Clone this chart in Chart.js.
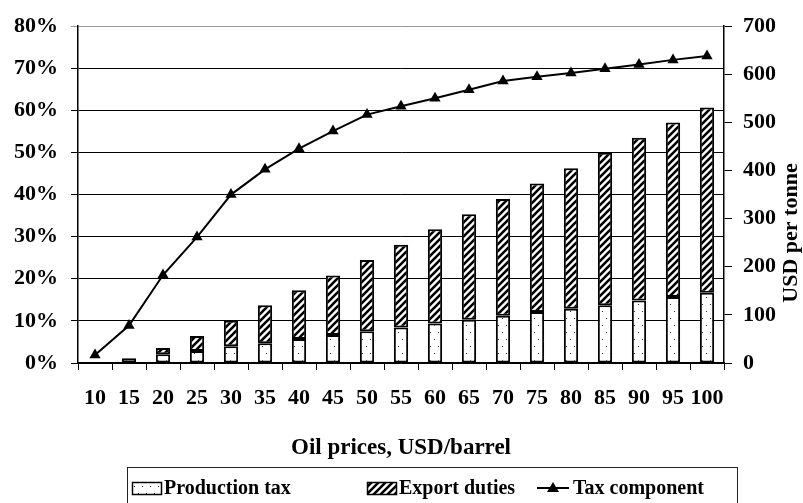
<!DOCTYPE html>
<html>
<head>
<meta charset="utf-8">
<script src="https://cdn.jsdelivr.net/npm/chart.js@4/dist/chart.umd.min.js"></script>
<style>
  html, body { margin: 0; padding: 0; background: #fff; }
  #wrap { width: 803px; height: 503px; }
</style>
</head>
<body>
<div id="wrap"><canvas id="c" width="803" height="503"></canvas></div>
<script>
// Oil price scenarios, USD/barrel
const prices = ['10','15','20','25','30','35','40','45','50','55','60','65','70','75','80','85','90','95','100'];
// Production tax, USD per tonne
const productionTax = [2, 10, 18, 25, 35, 41, 50, 58, 66, 74, 82, 90, 98, 106, 113, 120, 130, 137, 146];
// Export duties, USD per tonne
const exportDuties = [0, 0, 13, 31, 53, 79, 101, 124, 148, 172, 196, 219, 243, 267, 292, 317, 338, 363, 385];
// Tax component, % of oil price
const taxComponent = [1.9, 8.9, 20.9, 29.9, 40.0, 46.0, 50.9, 55.1, 59.0, 61.0, 62.9, 64.9, 67.0, 68.0, 68.9, 69.9, 70.9, 72.0, 72.9];

const seriesNames = ['Production tax', 'Export duties', 'Tax component'];
const axisTitleX = 'Oil prices, USD/barrel';
const axisTitleRight = 'USD per tonne';

const FONT = "'Liberation Serif', 'Times New Roman', serif";

function dotPattern() {
  const c = document.createElement('canvas');
  c.width = 8; c.height = 14;
  const g = c.getContext('2d');
  g.fillStyle = '#fff'; g.fillRect(0, 0, 8, 14);
  g.fillStyle = '#333';
  g.fillRect(2, 3, 1, 1);
  g.fillRect(6, 10, 1, 1);
  return g.createPattern(c, 'repeat');
}

function hatchPattern() {
  const s = 7;
  const c = document.createElement('canvas');
  c.width = s; c.height = s;
  const g = c.getContext('2d');
  g.fillStyle = '#fff'; g.fillRect(0, 0, s, s);
  g.strokeStyle = '#000'; g.lineWidth = 2.6;
  g.beginPath();
  g.moveTo(-1, s + 1); g.lineTo(s + 1, -1);
  g.moveTo(-1, 1); g.lineTo(1, -1);
  g.moveTo(s - 1, s + 1); g.lineTo(s + 1, s - 1);
  g.stroke();
  return g.createPattern(c, 'repeat');
}

const dots = dotPattern();
const hatch = hatchPattern();

// Boxed legend under the chart plus the rotated right-axis title
const extras = {
  id: 'extras',
  afterDraw(chart) {
    const ctx = chart.ctx;
    ctx.save();
    ctx.fillStyle = '#000';
    ctx.font = 'bold 22px ' + FONT;
    ctx.textAlign = 'center';
    ctx.textBaseline = 'middle';
    ctx.translate(791, 233);
    ctx.rotate(-Math.PI / 2);
    ctx.fillText(axisTitleRight, 0, 0);
    ctx.restore();

    ctx.save();
    ctx.strokeStyle = '#222';
    ctx.lineWidth = 1;
    ctx.strokeRect(127.5, 467.5, 610, 40);

    const cy = 488;
    ctx.font = 'bold 20px ' + FONT;
    ctx.textAlign = 'left';
    ctx.textBaseline = 'middle';

    // Production tax swatch
    ctx.fillStyle = dots;
    ctx.fillRect(132, cy - 6, 29, 12);
    ctx.strokeStyle = '#000'; ctx.lineWidth = 1.5;
    ctx.strokeRect(132.5, cy - 5.5, 29, 12);
    ctx.fillStyle = '#000';
    ctx.fillText(seriesNames[0], 164, cy + 1);

    // Export duties swatch
    ctx.fillStyle = hatch;
    ctx.fillRect(367, cy - 6, 29, 12);
    ctx.strokeRect(367.5, cy - 5.5, 29, 12);
    ctx.fillStyle = '#000';
    ctx.fillText(seriesNames[1], 399, cy + 1);

    // Tax component line sample
    ctx.beginPath();
    ctx.lineWidth = 2;
    ctx.moveTo(537, cy); ctx.lineTo(569, cy);
    ctx.stroke();
    ctx.beginPath();
    ctx.moveTo(553, cy - 6); ctx.lineTo(559, cy + 4); ctx.lineTo(547, cy + 4);
    ctx.closePath(); ctx.fill();
    ctx.fillText(seriesNames[2], 573, cy + 1);
    ctx.restore();
  }
};

new Chart(document.getElementById('c'), {
  type: 'bar',
  data: {
    labels: prices,
    datasets: [
      {
        type: 'line',
        label: seriesNames[2],
        data: taxComponent,
        yAxisID: 'y',
        order: 0,
        borderColor: '#000',
        backgroundColor: '#000',
        borderWidth: 2,
        tension: 0,
        pointStyle: 'triangle',
        pointRadius: 6.5,
        pointBackgroundColor: '#000',
        pointBorderColor: '#000',
        pointBorderWidth: 0
      },
      {
        label: seriesNames[0],
        data: productionTax,
        yAxisID: 'y2',
        stack: 'tax',
        order: 1,
        backgroundColor: dots,
        borderColor: '#000',
        borderWidth: 2,
        borderSkipped: false,
        categoryPercentage: 1,
        barPercentage: 0.42
      },
      {
        label: seriesNames[1],
        data: exportDuties,
        yAxisID: 'y2',
        stack: 'tax',
        order: 1,
        backgroundColor: hatch,
        borderColor: '#000',
        borderWidth: 2,
        borderSkipped: false,
        categoryPercentage: 1,
        barPercentage: 0.42
      }
    ]
  },
  options: {
    responsive: false,
    animation: false,
    layout: { padding: { top: 20, left: 0, right: 0, bottom: 40 } },
    plugins: { legend: { display: false }, tooltip: { enabled: false } },
    scales: {
      x: {
        stacked: true,
        offset: true,
        grid: { offset: true, drawOnChartArea: false, drawTicks: true, tickLength: 7, color: '#000', lineWidth: 1 },
        border: { display: true, color: '#000', width: 1.5 },
        ticks: { color: '#000', font: { family: FONT, size: 22, weight: 'bold' }, padding: 15, maxRotation: 0, autoSkip: false },
        title: { display: true, text: axisTitleX, color: '#000', font: { family: FONT, size: 23, weight: 'bold' }, padding: { top: 0, bottom: 1 } },
        afterFit(scale) { scale.height = 100; }
      },
      y: {
        position: 'left',
        min: 0, max: 80,
        ticks: { stepSize: 10, color: '#000', padding: 13, font: { family: FONT, size: 22, weight: 'bold' }, callback: v => v + '%' },
        grid: { color: ctx => (ctx.tick && ctx.tick.value === 80 ? '#999' : '#000'), lineWidth: 1, tickLength: 7 },
        border: { display: true, color: '#000', width: 1.5 },
        afterFit(scale) { scale.width = 78; }
      },
      y2: {
        position: 'right',
        stacked: true,
        min: 0, max: 700,
        ticks: { stepSize: 100, color: '#000', padding: 11, font: { family: FONT, size: 22, weight: 'bold' } },
        grid: { drawOnChartArea: false, drawTicks: true, tickLength: 8, color: '#000', lineWidth: 1 },
        border: { display: true, color: '#000', width: 1.5 },
        afterFit(scale) { scale.width = 79; }
      }
    }
  },
  plugins: [extras]
});
</script>
</body>
</html>
